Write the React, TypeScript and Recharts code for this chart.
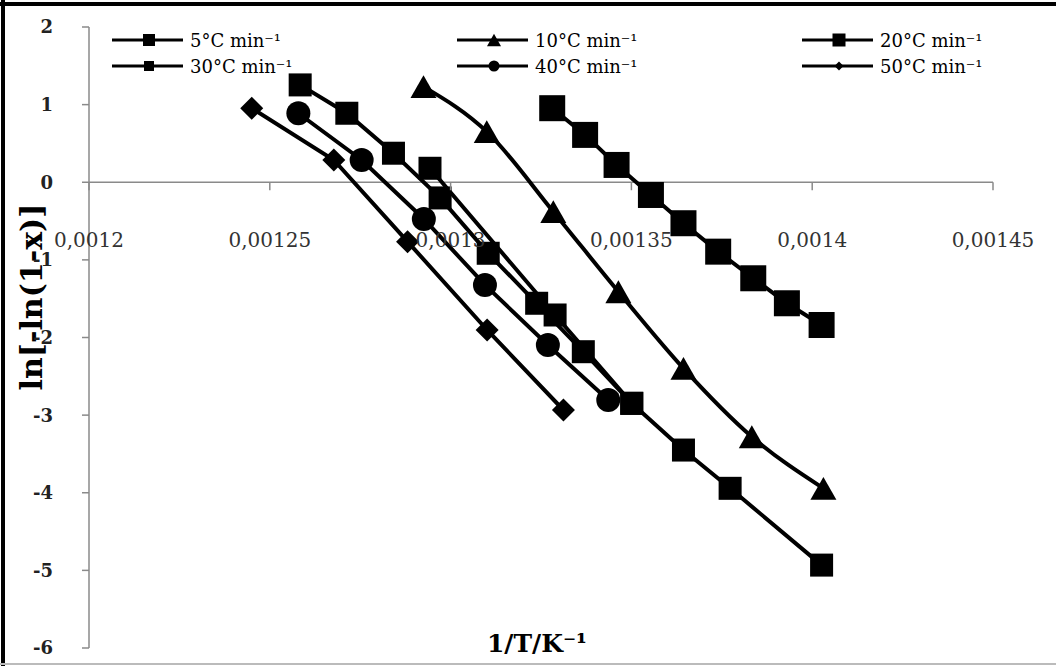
import React from "react";
import { Legend, Line, LineChart, ReferenceLine, XAxis, YAxis } from "recharts";

const FONT = "'DejaVu Serif', 'Liberation Serif', serif";
const AXIS = "#8a8a8a";
const INK = "#000";

// plot box (px) — y0 is where the value 0 sits, used for the crossing x-axis
const W = 1056;
const H = 666;
const TOP = 27;
const PLOT_H = 621;
const LEFT = 89;
const RIGHT = 993;
const Y_MIN = -6;
const Y_MAX = 2;
const Y0 = TOP + (PLOT_H * Y_MAX) / (Y_MAX - Y_MIN);

const X_TICKS = [0.0012, 0.00125, 0.0013, 0.00135, 0.0014, 0.00145];
const Y_TICKS = [-6, -5, -4, -3, -2, -1, 0, 1, 2];

const X_5 = [0.0012584, 0.0012713, 0.0012842, 0.0012971, 0.0013104, 0.0013238, 0.0013367, 0.0013501, 0.0013644, 0.0013773, 0.0014026];
const Y_5 = [1.254, 0.889, 0.374, -0.202, -0.915, -1.559, -2.183, -2.848, -3.45, -3.943, -4.932];

const X_10 = [0.0012925, 0.00131, 0.0013284, 0.0013464, 0.0013644, 0.0013833, 0.0014031];
const Y_10 = [1.232, 0.652, -0.379, -1.41, -2.397, -3.278, -3.943];

const X_20 = [0.0013281, 0.0013372, 0.0013459, 0.0013554, 0.0013644, 0.001374, 0.0013837, 0.001393, 0.0014026];
const Y_20 = [0.954, 0.61, 0.223, -0.164, -0.528, -0.894, -1.237, -1.559, -1.839];

const X_30 = [0.0012943, 0.0013289, 0.0013501];
const Y_30 = [0.18, -1.71, -2.848];

const X_40 = [0.0012579, 0.0012754, 0.0012926, 0.0013095, 0.0013269, 0.0013436];
const Y_40 = [0.889, 0.287, -0.473, -1.323, -2.096, -2.805];

const X_50 = [0.001245, 0.0012677, 0.0012881, 0.0013101, 0.0013312];
const Y_50 = [0.954, 0.287, -0.765, -1.903, -2.934];

const zip = (xs: number[], ys: number[]) => xs.map((x, i) => ({ x, y: ys[i] }));

type Shape = "square" | "triangle" | "circle" | "diamond";

const SERIES: {
  name: string;
  data: { x: number; y: number }[];
  shape: Shape;
  size: number;
  legendSize: number;
  curve: "linear" | "monotone";
}[] = [
  { name: "5°C min⁻¹", data: zip(X_5, Y_5), shape: "square", size: 23, legendSize: 12, curve: "linear" },
  { name: "10°C min⁻¹", data: zip(X_10, Y_10), shape: "triangle", size: 26, legendSize: 14, curve: "monotone" },
  { name: "20°C min⁻¹", data: zip(X_20, Y_20), shape: "square", size: 26, legendSize: 13, curve: "linear" },
  { name: "30°C min⁻¹", data: zip(X_30, Y_30), shape: "square", size: 23, legendSize: 10, curve: "linear" },
  { name: "40°C min⁻¹", data: zip(X_40, Y_40), shape: "circle", size: 24, legendSize: 11, curve: "linear" },
  { name: "50°C min⁻¹", data: zip(X_50, Y_50), shape: "diamond", size: 23, legendSize: 9, curve: "linear" },
];

function Marker({ shape, cx, cy, size }: { shape: Shape; cx: number; cy: number; size: number }) {
  const h = size / 2;
  if (shape === "square") return <rect x={cx - h} y={cy - h} width={size} height={size} fill={INK} />;
  if (shape === "circle") return <circle cx={cx} cy={cy} r={h} fill={INK} />;
  if (shape === "diamond")
    return <polygon points={`${cx},${cy - h} ${cx + h},${cy} ${cx},${cy + h} ${cx - h},${cy}`} fill={INK} />;
  const th = h * 0.88;
  return <polygon points={`${cx},${cy - th} ${cx + h},${cy + th} ${cx - h},${cy + th}`} fill={INK} />;
}

// x-axis crosses at y = 0: tick marks hang under the zero line, labels well below it
function XTick(props: any) {
  const { x, payload } = props;
  const label = String(payload.value).replace(".", ",");
  return (
    <g>
      <line x1={x} x2={x} y1={Y0} y2={Y0 + 8} stroke={AXIS} strokeWidth={1.5} />
      <text x={x} y={Y0 + 58} textAnchor="middle" dominantBaseline="central" fontFamily={FONT} fontSize={20} fill="#333">
        {label}
      </text>
    </g>
  );
}

function YTitle() {
  return (
    <text
      x={31}
      y={297}
      transform="rotate(-90, 31, 297)"
      textAnchor="middle"
      dominantBaseline="central"
      fontFamily={FONT}
      fontWeight="bold"
      fontSize={30}
      fill={INK}
    >
      ln[-ln(1-x)]
    </text>
  );
}

function XTitle() {
  return (
    <text x={537} y={643} textAnchor="middle" dominantBaseline="central" fontFamily={FONT} fontWeight="bold" fontSize={25} fill={INK}>
      1/T/K⁻¹
    </text>
  );
}

const LEG_LINE_X = [112, 457, 802];
const LEG_TEXT_X = [190, 535, 880];
const LEG_ROW_Y = [40, 66];

// legend keeps the series order (Recharts would sort the names as text)
function LegendBox() {
  return (
    <svg width={W} height={80} style={{ display: "block" }}>
      {SERIES.map((s, i) => {
        const row = Math.floor(i / 3);
        const col = i % 3;
        const y = LEG_ROW_Y[row];
        const x0 = LEG_LINE_X[col];
        return (
          <g key={s.name}>
            <line x1={x0} x2={x0 + 71} y1={y} y2={y} stroke={INK} strokeWidth={3} />
            <Marker shape={s.shape} cx={x0 + 37} cy={y} size={s.legendSize} />
            <text x={LEG_TEXT_X[col]} y={y} dominantBaseline="central" fontFamily={FONT} fontSize={18} fill={INK}>
              {s.name}
            </text>
          </g>
        );
      })}
    </svg>
  );
}

export default function App() {
  const axisH = H - TOP - PLOT_H;
  return (
    <div style={{ position: "absolute", left: 0, top: 0, width: W, height: H, background: "#fff", overflow: "hidden" }}>
      <LineChart
        width={W}
        height={H}
        margin={{ top: TOP, right: W - RIGHT, bottom: 0, left: 0 }}
        style={{ fontFamily: FONT }}
      >
        <XAxis
          dataKey="x"
          type="number"
          domain={[X_TICKS[0], X_TICKS[X_TICKS.length - 1]]}
          ticks={X_TICKS}
          interval={0}
          axisLine={false}
          tickLine={false}
          height={axisH}
          tick={<XTick />}
          label={<XTitle />}
          allowDataOverflow
        />
        <YAxis
          dataKey="y"
          type="number"
          domain={[Y_MIN, Y_MAX]}
          ticks={Y_TICKS}
          interval={0}
          width={LEFT}
          axisLine={{ stroke: AXIS, strokeWidth: 1.5 }}
          tickLine={{ stroke: AXIS, strokeWidth: 1.5 }}
          tickSize={7}
          tickMargin={29}
          tick={{ fontFamily: FONT, fontSize: 18, fontWeight: "bold", fill: "#222" }}
          label={<YTitle />}
        />
        <ReferenceLine y={0} stroke={AXIS} strokeWidth={1.5} />
        {SERIES.map((s) => (
          <Line
            key={s.name}
            name={s.name}
            data={s.data}
            dataKey="y"
            type={s.curve}
            stroke={INK}
            strokeWidth={4}
            isAnimationActive={false}
            dot={(p: any) => <Marker key={`${s.name}-${p.index}`} shape={s.shape} cx={p.cx} cy={p.cy} size={s.size} />}
            activeDot={false}
            legendType="line"
          />
        ))}
        <Legend
          layout="horizontal"
          verticalAlign="middle"
          align="center"
          content={<LegendBox />}
          wrapperStyle={{ left: 0, top: 0, width: W, height: 80, margin: 0 }}
        />
      </LineChart>
      <div style={{ position: "absolute", left: 0, top: 2, width: W, height: 4, background: "#000" }} />
      <div style={{ position: "absolute", left: 1, top: 0, width: 4, height: H, background: "#000" }} />
      <div style={{ position: "absolute", left: 0, top: H - 3, width: W, height: 2, background: "#bbb" }} />
    </div>
  );
}
